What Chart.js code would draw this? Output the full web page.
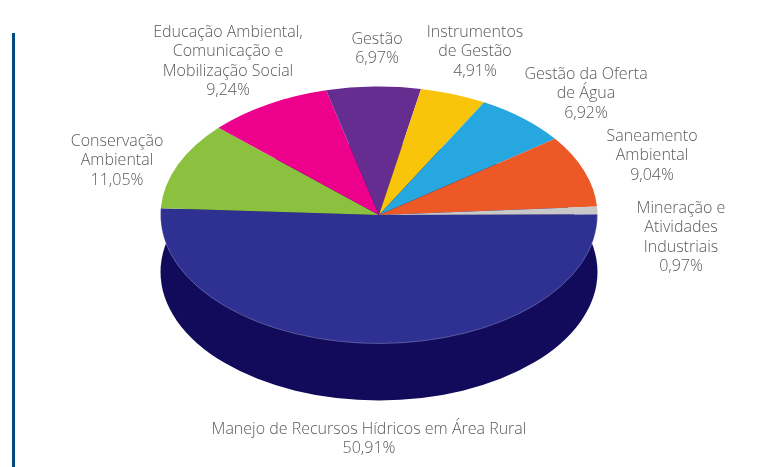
<!DOCTYPE html>
<html lang="pt">
<head>
<meta charset="utf-8">
<title>Distribuição por tema</title>
<script src="https://cdn.jsdelivr.net/npm/chart.js@4"></script>
<style>
html,body{margin:0;padding:0;background:#fff;overflow:hidden}
canvas{display:block}
</style>
</head>
<body>
<canvas id="c" width="759" height="467"></canvas>
<script>
// Data
const categories = [
  "Manejo de Recursos Hídricos em Área Rural",
  "Conservação Ambiental",
  "Educação Ambiental, Comunicação e Mobilização Social",
  "Gestão",
  "Instrumentos de Gestão",
  "Gestão da Oferta de Água",
  "Saneamento Ambiental",
  "Mineração e Atividades Industriais"
];
const values = [50.91, 11.05, 9.24, 6.97, 4.91, 6.92, 9.04, 0.97];
const labelLines = [
  ["Manejo de Recursos Hídricos em Área Rural"],
  ["Conservação", "Ambiental"],
  ["Educação Ambiental,", "Comunicação e", "Mobilização Social"],
  ["Gestão"],
  ["Instrumentos", "de Gestão"],
  ["Gestão da Oferta", "de Água"],
  ["Saneamento", "Ambiental"],
  ["Mineração e", "Atividades", "Industriais"]
];
const colors = ["#2e3192", "#8cc13f", "#ec008c", "#662d91", "#f9c50a", "#27a7e0", "#ec5826", "#c8c8c8"];

// Layout
const labelAnchors = [[369,429],[117,141],[228,32],[377,39],[475,32],[586,74],[652,136],[681,208]];
const lineStep = 19.5;
const RX = 218.5, RY = 128.5, DEPTH = 57;
const R0 = 200;
const sx = RX / R0, sy = RY / R0;

const pie3d = {
  id: "pie3d",
  beforeDatasetsDraw(chart) {
    const c = chart.ctx, a = chart.getDatasetMeta(0).data[0];
    c.fillStyle = "#120a5a";
    c.beginPath();
    c.ellipse(a.x, a.y + DEPTH, RX, RY, 0, 0, Math.PI * 2);
    c.fill();
    c.save();
    c.translate(a.x, a.y);
    c.scale(sx, sy);
    c.translate(-a.x, -a.y);
  },
  afterDatasetsDraw(chart) {
    const c = chart.ctx, a = chart.getDatasetMeta(0).data[0];
    c.restore();
    c.strokeStyle = "rgba(255,255,255,0.3)";
    c.lineWidth = 0.8;
    c.beginPath();
    c.ellipse(a.x, a.y, RX, RY, 0, a.startAngle, a.endAngle);
    c.stroke();
  },
  afterDraw(chart) {
    const c = chart.ctx;
    c.save();
    c.fillStyle = "#004a7f";
    c.fillRect(12, 33, 3, 434);
    c.fillStyle = "#5a5a5a";
    c.font = "300 16px 'Open Sans'";
    c.textAlign = "center";
    c.textBaseline = "middle";
    labelLines.forEach((lines, i) => {
      const [x, y] = labelAnchors[i];
      const all = lines.concat(values[i].toFixed(2).replace(".", ",") + "%");
      all.forEach((t, k) => c.fillText(t, x, y + k * lineStep));
    });
    c.restore();
  }
};

new Chart(document.getElementById("c"), {
  type: "pie",
  data: {
    labels: categories,
    datasets: [{ data: values, backgroundColor: colors, borderWidth: 0, hoverOffset: 0 }]
  },
  options: {
    responsive: false,
    animation: false,
    rotation: 89.7,
    layout: { padding: { left: 179, right: 180, top: 15, bottom: 52 } },
    plugins: { legend: { display: false }, tooltip: { enabled: false } },
    events: []
  },
  plugins: [pie3d]
});
</script>
</body>
</html>
